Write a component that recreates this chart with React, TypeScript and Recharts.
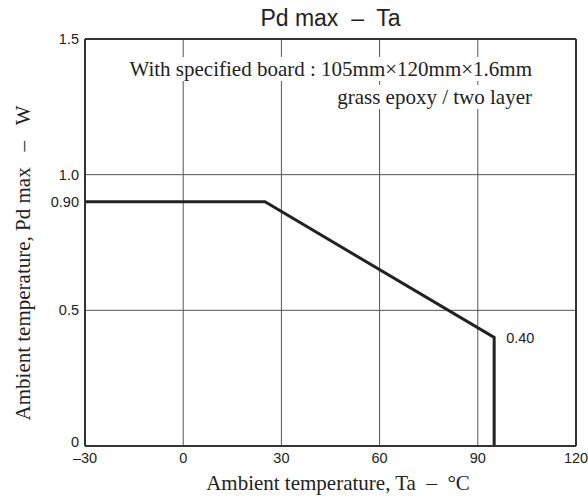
import React from 'react'
import {
  CartesianGrid,
  Line,
  LineChart,
  ReferenceDot,
  ReferenceLine,
  XAxis,
  YAxis
} from 'recharts'

const temps = [-30, 25, 95, 95]
const pdMax = [0.9, 0.9, 0.4, 0]
const xTicks = [-30, 0, 30, 60, 90, 120]
const yTicks = [0, 0.5, 0.9, 1.0, 1.5]
const yTickLabels: { [k: string]: string } = { '0': '0', '0.5': '0.5', '0.9': '0.90', '1': '1.0', '1.5': '1.5' }

const sans = '"Liberation Sans", Arial, sans-serif'
const serif = '"Liberation Serif", "Times New Roman", serif'
const nb = '\u00a0'

const YTick = (props: any) => {
  const { x, y, payload } = props
  const dy = payload.value === 0 ? 1 : 5
  return (
    <text x={x} y={y + dy} textAnchor="end" fontFamily={sans} fontSize={14.5} fill="#222">
      {yTickLabels[String(payload.value)]}
    </text>
  )
}

const XTick = (props: any) => {
  const { x, y, payload } = props
  const label = payload.value < 0 ? '\u2013' + Math.abs(payload.value) : String(payload.value)
  return (
    <text x={x} y={y + 15} textAnchor="middle" fontFamily={sans} fontSize={14.5} fill="#222">
      {label}
    </text>
  )
}

const YLabel = () => (
  <text
    x={30}
    y={263}
    transform="rotate(-90 30 263)"
    textAnchor="middle"
    fontFamily={serif}
    fontSize={21}
    fill="#222"
  >
    {'Ambient temperature, Pd max' + nb + nb + nb + '\u2013' + nb + nb + nb + 'W'}
  </text>
)

const XLabel = () => (
  <text x={338} y={490} textAnchor="middle" fontFamily={serif} fontSize={21} fill="#222">
    {'Ambient temperature, Ta' + nb + nb + '\u2013' + nb + nb + '\u00b0C'}
  </text>
)

const noteLine: React.CSSProperties = { background: '#fff', padding: '0 3px' }

export default function App() {
  const data = temps.map((t, i) => ({ t, p: pdMax[i] }))

  return <div style={{ position: 'absolute', left: 0, top: 0, width: 588, height: 500, background: '#fff' }}>
    <LineChart
      width={588}
      height={500}
      data={data}
      margin={{ top: 39, right: 12, left: 0, bottom: 0 }}
    >
      <CartesianGrid
        stroke="#555"
        strokeWidth={1}
        horizontalValues={[0.5, 1.0]}
        verticalValues={[0, 30, 60, 90]}
      />
      <XAxis
        dataKey="t"
        type="number"
        domain={[-30, 120]}
        ticks={xTicks}
        tickLine={false}
        tickSize={0}
        tick={<XTick />}
        axisLine={{ stroke: '#333', strokeWidth: 2 }}
        label={{ content: () => <XLabel /> }}
        height={54}
      />
      <YAxis
        dataKey="p"
        type="number"
        domain={[0, 1.5]}
        ticks={yTicks}
        tickLine={false}
        tickSize={0}
        tickMargin={6}
        tick={<YTick />}
        axisLine={{ stroke: '#333', strokeWidth: 2 }}
        width={85}
        label={{ content: () => <YLabel /> }}
      />
      <ReferenceLine y={1.5} stroke="#333" strokeWidth={2} />
      <ReferenceLine x={120} stroke="#333" strokeWidth={2} />
      <Line
        type="linear"
        dataKey="p"
        stroke="#222"
        strokeWidth={3}
        dot={false}
        isAnimationActive={false}
      />
      <ReferenceDot
        x={95}
        y={0.4}
        r={0}
        stroke="none"
        label={{ value: '0.40', position: 'right', offset: 12, fontFamily: sans, fontSize: 14.5, fill: '#222' }}
      />
    </LineChart>
    <div style={{ position: 'absolute', left: 85, width: 491, top: 7, textAlign: 'center', fontFamily: sans, fontSize: 23, lineHeight: '23px', color: '#222', whiteSpace: 'pre' }}>
      {'Pd max  \u2013  Ta'}
    </div>
    <div style={{ position: 'absolute', right: 53, top: 55, textAlign: 'right', fontFamily: serif, fontSize: 21, lineHeight: '28px', color: '#222' }}>
      <span style={noteLine}>With specified board : 105mm×120mm×1.6mm</span><br />
      <span style={noteLine}>grass epoxy / two layer</span>
    </div>
  </div>
}
